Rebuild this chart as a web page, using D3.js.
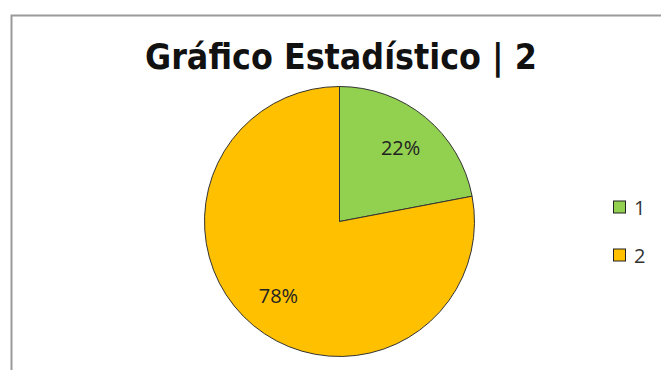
<!DOCTYPE html>
<html><head><meta charset="utf-8">
<script src="https://cdn.jsdelivr.net/npm/d3@7"></script>
<style>body{margin:0;background:#fff}svg{display:block}</style>
</head><body>
<script>
const categories = ["1", "2"];
const values = [22, 78];
const colors = ["#92D050", "#FFC000"];
const title = "Gráfico Estadístico | 2";

const W = 661, H = 370;
const svg = d3.select("body").append("svg").attr("width", W).attr("height", H);

svg.append("rect").attr("x", 11.5).attr("y", 15.5).attr("width", 700).attr("height", 400)
  .attr("fill", "#fff").attr("stroke", "#9a9a9a").attr("stroke-width", 2);

const t = svg.append("text").attr("x", 341).attr("y", 69).attr("text-anchor", "middle")
  .attr("font-family", "'DejaVu Sans', sans-serif").attr("font-weight", "bold")
  .attr("font-size", 35).attr("fill", "#111").text(title);
const tw = t.node().getComputedTextLength();
if (Math.abs(tw - 392) > 4) t.attr("textLength", 392).attr("lengthAdjust", "spacingAndGlyphs");

const cx = 339.5, cy = 221.5, r = 135;
const pie = d3.pie().sort(null).value(d => d)(values);
const arc = d3.arc().innerRadius(0).outerRadius(r);
const g = svg.append("g").attr("transform", `translate(${cx},${cy})`);
g.selectAll("path").data(pie).join("path").attr("d", arc)
  .attr("fill", (d, i) => colors[i]).attr("stroke", "#333").attr("stroke-width", 1);

const total = d3.sum(values);
const labelArc = d3.arc().innerRadius(r * 0.71).outerRadius(r * 0.71);
g.selectAll("text").data(pie).join("text")
  .attr("transform", d => `translate(${labelArc.centroid(d)})`)
  .attr("text-anchor", "middle").attr("dominant-baseline", "central")
  .attr("font-family", "'Open Sans', sans-serif").attr("font-size", 20).attr("fill", "#222")
  .text(d => Math.round(d.data / total * 100) + "%");

const leg = svg.append("g");
const ly = d3.scalePoint().domain(categories).range([207, 255]);
categories.forEach((c, i) => {
  leg.append("rect").attr("x", 613.5).attr("y", ly(c) - 6).attr("width", 12).attr("height", 12)
    .attr("fill", colors[i]).attr("stroke", "#222").attr("stroke-width", 1);
  leg.append("text").attr("x", 634).attr("y", ly(c)).attr("dominant-baseline", "central")
    .attr("font-family", "'Open Sans', sans-serif").attr("font-size", 20).attr("fill", "#333").text(c);
});
</script>
</body></html>
